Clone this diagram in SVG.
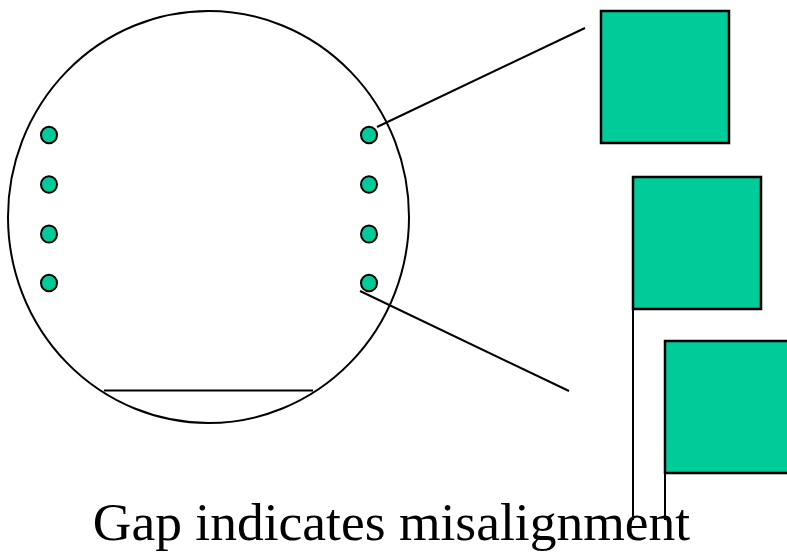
<svg xmlns="http://www.w3.org/2000/svg" width="787" height="554" viewBox="0 0 787 554">
<style>
.ln{stroke:#000;stroke-width:2;fill:none}
.dot{fill:#00CC99;stroke:#000;stroke-width:2}
.sq{fill:#00CC99;stroke:#000;stroke-width:2.5}
.lbl{font-family:"Liberation Serif","Times New Roman",serif;font-size:53.5px;fill:#000}
</style>
<rect width="787" height="554" fill="#fff"/>
<g id="wafer">
<ellipse class="ln" cx="208.5" cy="217" rx="200.5" ry="206"/>
<line class="ln" x1="104" y1="390.5" x2="313" y2="390.5"/>
</g>
<g id="dots-left">
<ellipse class="dot" cx="49" cy="135" rx="8" ry="8.3"/>
<ellipse class="dot" cx="49" cy="184.5" rx="8" ry="8.3"/>
<ellipse class="dot" cx="49" cy="234" rx="8" ry="8.6"/>
<ellipse class="dot" cx="49" cy="283" rx="8" ry="8.3"/>
</g>
<g id="dots-right">
<ellipse class="dot" cx="369" cy="135" rx="8" ry="8.3"/>
<ellipse class="dot" cx="369" cy="184.5" rx="8" ry="8.3"/>
<ellipse class="dot" cx="369" cy="234" rx="8" ry="8.6"/>
<ellipse class="dot" cx="369" cy="283" rx="8" ry="8.3"/>
</g>
<g id="square-top">
<rect class="sq" x="601" y="11" width="128" height="132"/>
</g>
<g id="square-mid">
<rect class="sq" x="633" y="177" width="128" height="132"/>
</g>
<g id="square-bottom">
<rect class="sq" x="665" y="341" width="126" height="132"/>
</g>
<g id="connectors">
<line class="ln" x1="377" y1="127" x2="585" y2="28"/>
<line class="ln" x1="360" y1="291" x2="569" y2="391"/>
<line class="ln" x1="633" y1="309" x2="633" y2="520"/>
<line class="ln" x1="665" y1="473" x2="665" y2="520"/>
</g>
<g id="caption">
<text class="lbl" x="391.5" y="540" text-anchor="middle">Gap indicates misalignment</text>
</g>
</svg>
